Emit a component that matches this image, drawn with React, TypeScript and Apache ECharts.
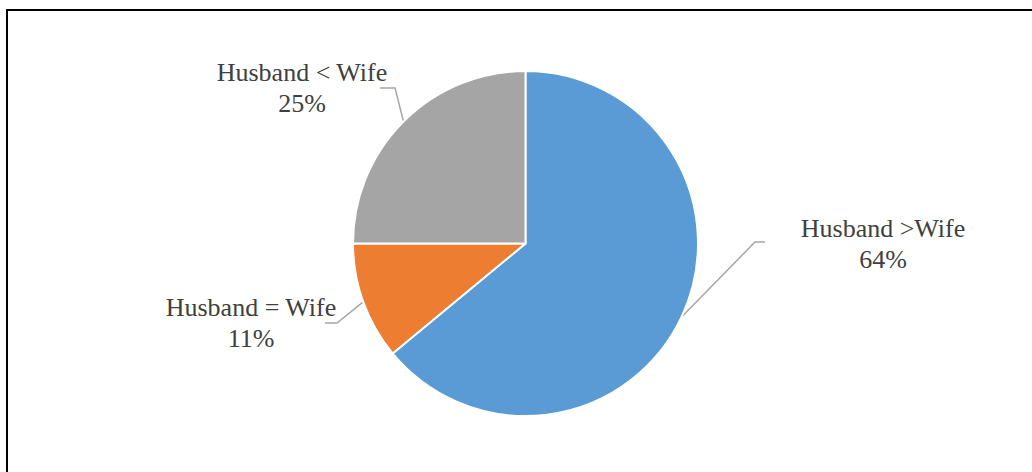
import React, { useEffect, useRef } from "react";
import * as echarts from "echarts";

const categories = ["Husband >Wife", "Husband = Wife", "Husband < Wife"];
const values = [64, 11, 25];
const colors = ["#5B9BD5", "#ED7D31", "#A5A5A5"];

// label placement (centre of the two-line label) and leader line bends, in pixels
const labelPos: [number, number][] = [
  [883, 243.5],
  [251, 322.5],
  [302, 87.5],
];
const leaderBends: [number, number][][] = [
  [[755, 242], [765, 242]],
  [[337, 323], [325, 323]],
  [[395, 88], [380, 88]],
];

export default function App() {
  const ref = useRef<HTMLDivElement>(null);
  useEffect(() => {
    const chart = echarts.init(ref.current!, null, { renderer: "svg" });
    chart.setOption({
      animation: false,
      backgroundColor: "#ffffff",
      graphic: [
        {
          type: "polyline",
          shape: { points: [[7, 472], [7, 10], [1032, 10]] },
          style: { stroke: "#000000", lineWidth: 2, fill: "none" },
          silent: true,
        },
      ],
      series: [
        {
          type: "pie",
          center: [525.5, 243.5],
          radius: 172.5,
          startAngle: 90,
          clockwise: true,
          data: categories.map((name, i) => ({
            name,
            value: values[i],
            itemStyle: { color: colors[i] },
          })),
          itemStyle: { borderColor: "#ffffff", borderWidth: 2 },
          label: {
            show: true,
            position: "outside",
            formatter: (p: any) => `${p.name}\n${p.value}%`,
            fontFamily: "'Liberation Serif', serif",
            fontSize: 26,
            lineHeight: 31,
            color: "#404040",
            align: "center",
          },
          labelLine: {
            show: true,
            length: 20,
            length2: 10,
            lineStyle: { color: "#A6A6A6", width: 1.5 },
          },
          labelLayout: (params: any) => {
            const i = params.dataIndex;
            const p0 = params.labelLinePoints ? params.labelLinePoints[0] : null;
            const out: any = {
              x: labelPos[i][0],
              y: labelPos[i][1],
              align: "center",
              verticalAlign: "middle",
            };
            if (p0) {
              out.labelLinePoints = [p0, leaderBends[i][0], leaderBends[i][1]];
            }
            return out;
          },
          emphasis: { disabled: true },
        },
      ],
    });
    return () => chart.dispose();
  }, []);
  return (
    <div
      ref={ref}
      style={{ position: "fixed", left: 0, top: 0, width: 1032, height: 472 }}
    />
  );
}
